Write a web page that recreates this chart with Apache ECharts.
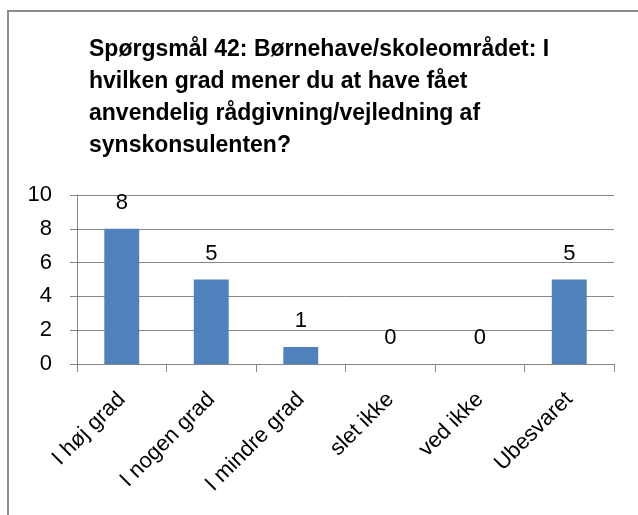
<!DOCTYPE html>
<html>
<head>
<meta charset="utf-8">
<script src="https://cdn.jsdelivr.net/npm/echarts@6/dist/echarts.min.js"></script>
<style>
  html, body { margin: 0; padding: 0; background: #fff; }
  #main { width: 638px; height: 515px; }
</style>
</head>
<body>
<div id="main"></div>
<script>
// data
var categories = ['I høj grad', 'I nogen grad', 'I mindre grad', 'slet ikke', 'ved ikke', 'Ubesvaret'];
var counts = [8, 5, 1, 0, 0, 5];
var yTicks = [0, 2, 4, 6, 8, 10];
var titleText = 'Spørgsmål 42: Børnehave/skoleområdet: I\nhvilken grad mener du at have fået\nanvendelig rådgivning/vejledning af\nsynskonsulenten?';

var chart = echarts.init(document.getElementById('main'));
var font = '"Liberation Sans", Arial, sans-serif';
chart.setOption({
    animation: false,
    backgroundColor: '#fff',
    graphic: [{
        type: 'rect',
        shape: { x: 8, y: 11, width: 700, height: 600 },
        style: { fill: 'none', stroke: '#8c8c8c', lineWidth: 2 }
    }],
    title: {
        text: titleText,
        left: 84,
        top: 29,
        textStyle: {
            fontFamily: font,
            fontWeight: 'bold',
            fontSize: 23,
            lineHeight: 32,
            color: '#000'
        }
    },
    grid: { left: 77, right: 24, top: 195, bottom: 151, containLabel: false },
    xAxis: {
        type: 'category',
        data: categories,
        axisLine: { lineStyle: { color: '#868686', width: 1 } },
        axisTick: { show: true, length: 8, lineStyle: { color: '#868686' } },
        axisLabel: {
            rotate: 45,
            interval: 0,
            margin: 32,
            fontFamily: font,
            fontSize: 22,
            color: '#000'
        }
    },
    yAxis: {
        type: 'value',
        min: yTicks[0],
        max: yTicks[yTicks.length - 1],
        interval: yTicks[1] - yTicks[0],
        axisLine: { show: true, lineStyle: { color: '#868686' } },
        axisTick: { show: true, length: 7, lineStyle: { color: '#868686' } },
        splitLine: { lineStyle: { color: '#868686', width: 1 } },
        axisLabel: {
            margin: 25,
            fontFamily: font,
            fontSize: 22,
            color: '#000'
        }
    },
    series: [{
        type: 'bar',
        data: counts,
        barWidth: '39%',
        itemStyle: { color: '#4F81BD' },
        label: {
            show: true,
            position: 'top',
            distance: 15,
            fontFamily: font,
            fontSize: 22,
            color: '#000'
        }
    }]
});
</script>
</body>
</html>
